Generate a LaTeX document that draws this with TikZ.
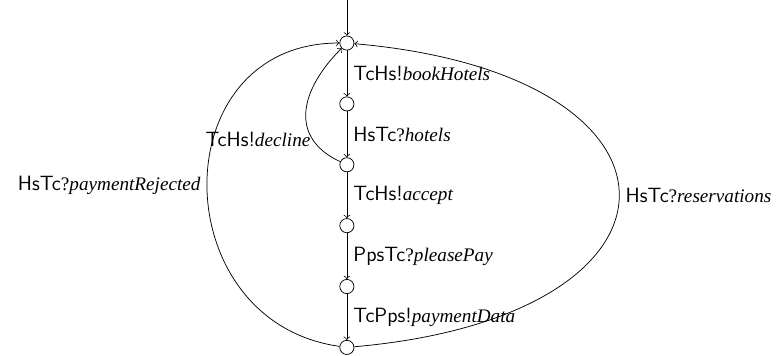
\documentclass[tikz,border=0pt]{standalone}
\usepackage{fontspec}
\setmainfont{Liberation Serif}
\setsansfont{Latin Modern Sans}
\usetikzlibrary{positioning}
\newcommand{\chname}[1]{\textsf{\fontsize{11.2}{13}\selectfont #1}}
\begin{document}
\begin{tikzpicture}[>=to, node distance=1.16cm, on grid,
    every node/.style={font=\fontsize{10.4}{12}\selectfont},
    state/.style={circle,draw,inner sep=0pt,minimum size=0.27cm}]
                \useasboundingbox (0,0) rectangle (14.94,-6.78);
                \node[state] (s0) at (6.61,-0.82) {};
                \node[state,below=of s0] (s1) {};
                \node[state,below=of s1] (s2) {};
                \node[state,below=of s2] (s3) {};
                \node[state,below=of s3] (s4) {};
                \node[state,below=of s4] (s5) {};
                \coordinate (init) at (6.61,0);
                \draw[->] (init) -- (s0);
                \draw[->] (s0) -- node[right] {\chname{TcHs!}\textit{bookHotels}} (s1);
                \draw[->] (s1) -- node[right] {\chname{HsTc}?\textit{hotels}} (s2);
                \draw[->] (s2) -- node[right] {\chname{TcHs!}\textit{accept}} (s3);
                \draw[->] (s3) -- node[right] {\chname{PpsTc}?\textit{pleasePay}} (s4);
                \draw[->] (s4) -- node[right] {\chname{TcPps!}\textit{paymentData}} (s5);
                \draw[->] (s2) to[out=155,in=225,looseness=1.3] node[pos=0.25,left,inner sep=1pt] {\chname{TcHs!}\textit{decline}} (s0);
                \draw[->] (s5) to[out=172,in=180,looseness=1.5] node[left] {\chname{HsTc}?\textit{paymentRejected}} (s0);
                \draw[->] (s5) to[out=5,in=-5,looseness=3.0] node[right] {\chname{HsTc}?\textit{reservations}} (s0);
            \end{tikzpicture}
\end{document}
